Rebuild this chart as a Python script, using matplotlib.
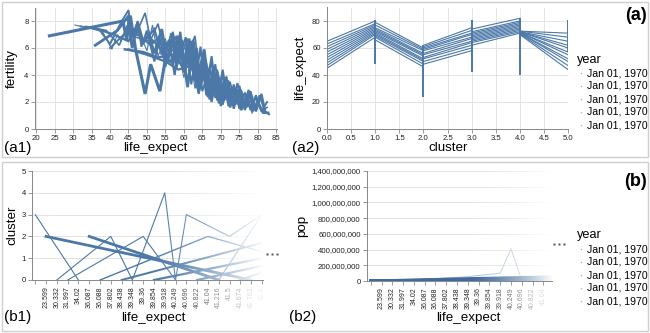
import numpy as np
import matplotlib
matplotlib.use("Agg")
import matplotlib.pyplot as plt
from matplotlib.patches import Rectangle
from matplotlib.lines import Line2D
from matplotlib.ticker import FuncFormatter

plt.rcParams['font.family'] = ['Liberation Sans', 'DejaVu Sans']

BLUE = '#4c78a8'
GRID = '#e3e3e3'
AXC = '#888888'

# ---------------- (a1) fertility vs life_expect, one line per year ----------------
a1_le = [
    [23.6, 43.5, 44.5, 45.5, 47, 49.5, 51, 53.5, 55, 57, 58.5, 60, 62, 63.5, 65, 66.5, 68, 69.5, 70.5, 72],
    [36, 42, 44.8, 46, 47.5, 49, 50.5, 52, 54, 55.5, 57, 58, 59.5, 61, 62.5, 64, 65.5, 67, 69, 70.5, 72, 73.5],
    [30.5, 34, 38, 40.5, 42, 43, 44.5, 45.5, 46.5, 48, 50, 51.5, 53, 55, 56.5, 58, 60, 61.5, 63, 65, 66.5, 68, 70, 72, 74, 76],
    [32, 37, 40, 43, 45, 46, 47.5, 48.5, 50, 52, 53.5, 55, 57, 58.5, 60.5, 62, 63.5, 65, 67, 68.5, 70.5, 72, 73.5, 75, 77],
    [33.5, 39, 42.5, 45, 47, 49.5, 51, 53, 55, 56.5, 58, 59.5, 61, 63, 64.5, 66, 67.5, 69, 71, 72.5, 74, 75.5, 77, 78.5],
    [35.5, 41, 45, 47, 49, 52, 54, 56, 57.5, 59, 61, 62.5, 64, 65.5, 67, 68.5, 70, 71.5, 73, 74.5, 76, 77.5, 79, 80.5],
    [40, 44.5, 48, 51, 54, 56, 58, 60, 61.5, 63, 64.5, 66, 67.5, 69, 70.5, 72, 73.5, 75, 76.5, 78, 79.5, 81, 82.5],
    [44, 49, 53, 57, 59.5, 61.5, 63.5, 65, 66.5, 68, 69.5, 71, 72.5, 74, 75.5, 77, 78.5, 80, 81.5, 82.8],
    [45, 50, 55, 58.5, 62, 64, 66, 67.5, 69, 70.5, 72, 73.5, 75, 76.5, 78, 79.5, 81, 82, 83],
    [47, 52, 56, 59, 61, 63, 64.5, 66, 67.5, 69, 70.5, 72, 73.5, 75, 76.5, 78, 79.5, 81, 82.5],
    [50, 54, 57, 60, 62.5, 64, 65.5, 67, 68.5, 70, 71.5, 73, 74.5, 76, 77.5, 79, 80.5, 82],
]
a1_fert = [
    [6.9, 8.0, 6.6, 8.4, 5.8, 2.6, 4.8, 2.8, 5.2, 4.9, 6.9, 4.5, 6.5, 3.5, 4.6, 2.6, 3.3, 2.4, 2.9, 2.3],
    [6.2, 7.3, 8.3, 6.0, 7.9, 6.4, 7.0, 5.6, 7.4, 5.0, 6.8, 4.7, 6.1, 3.1, 6.6, 3.9, 5.9, 2.2, 3.6, 2.1, 2.8, 2.0],
    [7.7, 7.5, 7.2, 5.9, 7.0, 6.5, 7.6, 8.1, 6.9, 7.1, 5.8, 7.7, 5.4, 6.7, 4.9, 6.3, 3.8, 5.6, 3.0, 4.4, 2.4, 3.3, 2.6, 2.2, 2.0, 1.9],
    [7.6, 7.4, 6.3, 7.9, 8.8, 6.8, 8.0, 6.1, 7.3, 5.0, 6.7, 4.6, 7.2, 5.2, 6.8, 3.3, 6.0, 2.8, 4.6, 2.3, 3.4, 2.1, 2.9, 1.9, 1.8],
    [7.6, 7.3, 6.2, 7.8, 7.0, 8.6, 6.6, 7.8, 5.3, 7.1, 4.4, 6.6, 5.5, 6.9, 3.3, 5.1, 2.6, 4.4, 2.1, 3.5, 1.8, 2.9, 1.6, 2.4],
    [7.5, 7.0, 6.5, 7.5, 6.4, 7.4, 5.5, 6.6, 4.0, 7.2, 3.2, 6.4, 2.6, 5.3, 2.8, 4.0, 1.7, 3.4, 1.9, 2.9, 1.6, 2.6, 1.4, 2.2],
    [6.0, 7.2, 6.9, 6.2, 7.0, 5.6, 6.9, 5.1, 6.7, 3.7, 6.1, 2.9, 5.4, 2.2, 4.4, 1.9, 3.3, 1.6, 2.7, 1.5, 2.5, 1.3, 2.0],
    [5.9, 5.7, 5.3, 5.5, 4.7, 5.9, 3.1, 5.3, 2.4, 4.6, 1.9, 3.8, 1.6, 3.0, 1.4, 2.4, 1.3, 2.0, 1.2, 1.2],
    [5.9, 5.5, 5.0, 4.4, 4.7, 2.7, 4.6, 2.0, 4.2, 1.8, 3.6, 1.5, 3.2, 1.4, 2.8, 1.3, 2.6, 1.3, 1.1],
    [6.8, 6.4, 6.1, 5.2, 6.7, 3.9, 5.8, 2.5, 5.0, 2.1, 4.0, 1.7, 3.1, 1.5, 2.6, 1.4, 2.3, 1.3, 1.6],
    [7.0, 5.9, 6.5, 4.2, 6.0, 2.9, 5.3, 2.6, 4.8, 1.9, 3.9, 1.8, 3.4, 1.6, 2.9, 1.5, 2.5, 1.2],
]
a1_width = [2.2, 2.0, 0.8, 1.4, 1.2, 1.6, 1.4, 1.8, 1.6, 1.2, 1.4]

# ---------------- (a2) life_expect vs cluster ----------------
a2_c0 = [45, 47, 49, 51, 53, 55, 57, 59, 61, 63, 65]
a2_c1_in = [68, 70, 71, 72, 73, 74, 75, 76, 77, 78, 80]
a2_c1_out = [66, 68, 69, 70, 71, 72, 73, 74, 75, 77, 79]
a2_c2_in = [46, 48, 50, 51, 52, 54, 55, 56, 58, 59, 60]
a2_c2_out = [48, 50, 52, 53, 55, 56, 58, 59, 60, 61, 62]
a2_c3_in = [58, 60, 62, 64, 65, 67, 68, 70, 71, 73, 75]
a2_c3_out = [62, 64, 65, 66, 67, 68, 69, 70, 71, 72, 74]
a2_c4_in = [71, 72, 73, 74, 75, 76, 77, 78, 79, 80, 82]
a2_c4_out = [70, 70.5, 71, 71, 71.5, 71.5, 72, 72, 72, 72.5, 72.5]
a2_c5 = [44, 47, 50, 52, 55, 57, 60, 62, 65, 68, 71]
a2_spike_cluster = [0, 1, 2, 3, 4, 5]
a2_spike_lo = [30, 48, 24, 42, 40, 57]
a2_spike_hi = [66, 81, 62, 81, 82, 81]

# ---------------- (b1) cluster vs life_expect (categorical) ----------------
b1_labels = ['', '23.599', '30.332', '31.997', '34.02', '36.087', '36.088', '37.802',
             '38.438', '39.348', '39.36', '39.854', '39.918', '40.249', '40.696',
             '40.822', '41.04', '41.216', '41.5', '41.674', '41.763', '41.8']
b1_lines_idx = [
    [0, 4],
    [1, 20],
    [5, 17],
    [2, 7, 9, 12, 13, 14, 18, 21],
    [3, 10, 13],
    [6, 16, 21],
    [8, 21],
    [11, 21],
    [15, 21],
    [17, 21],
    [19, 21],
]
b1_lines_val = [
    [3, 0],
    [2, 0],
    [2, 0],
    [0, 2, 0, 4, 0, 3, 2, 3],
    [0, 2, 0],
    [0, 2, 1.3],
    [0, 1.7],
    [0, 1.0],
    [0, 0.65],
    [0, 3],
    [0, 0.35],
]
b1_lines_w = [0.8, 2.0, 2.0, 0.8, 0.8, 1.0, 1.4, 1.6, 1.6, 0.8, 1.6]

# ---------------- (b2) pop vs life_expect (categorical) ----------------
b2_labels = ['', '23.599', '30.332', '31.997', '34.02', '36.087', '36.088', '37.802',
             '38.438', '39.348', '39.36', '39.854', '39.918', '40.249', '40.696',
             '40.822', '41.04']
b2_lines_idx = [
    [0, 1, 3, 6, 9, 12, 13, 14, 16, 18],
    [0, 4, 8, 12, 16, 18],
    [0, 4, 8, 12, 16, 18],
    [0, 4, 8, 12, 16, 18],
    [0, 4, 8, 12, 16, 18],
    [0, 4, 8, 12, 16, 18],
]
b2_lines_val = [
    [0, 2e6, 1.2e7, 3e7, 5.5e7, 1.0e8, 4.1e8, 1.0e7, 2e7, 3e7],
    [0, 1.2e7, 2.6e7, 3.8e7, 5e7, 5.6e7],
    [0, 8e6, 1.8e7, 2.8e7, 4e7, 4.5e7],
    [0, 5e6, 1.2e7, 2e7, 3e7, 3.4e7],
    [0, 3e6, 7e6, 1.3e7, 2e7, 2.4e7],
    [0, 1e6, 3e6, 6e6, 1e7, 1.2e7],
]
b2_lines_w = [0.7, 2.2, 2.2, 2.2, 2.2, 2.2]
b2_lines_c = ['#a9bfdc', '#3f6b9f', '#3f6b9f', '#3f6b9f', '#3f6b9f', '#3f6b9f']

legend_entries = ['Jan 01, 1970'] * 5

W, H = 650, 333
fig = plt.figure(figsize=(W / 100, H / 100), dpi=100)


def px_axes(x0, x1, ytop, ybot):
    return fig.add_axes([x0 / W, (H - ybot) / H, (x1 - x0) / W, (ybot - ytop) / H])


def style(ax, xgrid=True):
    for s in ['top', 'right']:
        ax.spines[s].set_visible(False)
    for s in ['left', 'bottom']:
        ax.spines[s].set_color(AXC)
        ax.spines[s].set_linewidth(0.7)
    ax.tick_params(length=3, width=0.6, color=AXC, labelsize=5.6, labelcolor='#222', pad=1.5)
    ax.grid(True, axis='y', color=GRID, lw=0.7)
    if xgrid:
        ax.grid(True, axis='x', color=GRID, lw=0.7)
    ax.set_axisbelow(True)


def fade(ax, start, power=1.4):
    t = np.linspace(0, 1, 256)
    img = np.ones((1, 256, 4))
    img[0, :, 3] = t ** power
    ax.imshow(img, extent=[start, 1.0, 0, 1], transform=ax.transAxes,
              aspect='auto', zorder=5, interpolation='bilinear')


# box frames
fig.add_artist(Rectangle((2 / W, (H - 157) / H), 646 / W, 155 / H, transform=fig.transFigure,
                         fill=False, ec='#cfcfcf', lw=1.0))
fig.add_artist(Rectangle((2 / W, (H - 331) / H), 646 / W, 169 / H, transform=fig.transFigure,
                         fill=False, ec='#cfcfcf', lw=1.0))

# (a1)
ax1 = px_axes(35, 277, 7.5, 129)
style(ax1)
for le, fe, w in zip(a1_le, a1_fert, a1_width):
    ax1.plot(le, fe, color=BLUE, lw=w, solid_joinstyle='miter')
ax1.set_xlim(19.7, 85.2)
ax1.set_ylim(0, 9)
ax1.set_xticks(range(20, 90, 5))
ax1.set_yticks([0, 2, 4, 6, 8])

# (a2)
ax2 = px_axes(327, 568, 7.5, 129)
style(ax2)
for i in range(len(a2_c0)):
    xs = [0, 1, 1, 2, 2, 3, 3, 4, 4, 5]
    ys = [a2_c0[i], a2_c1_in[i], a2_c1_out[i], a2_c2_in[i], a2_c2_out[i],
          a2_c3_in[i], a2_c3_out[i], a2_c4_in[i], a2_c4_out[i], a2_c5[i]]
    ax2.plot(xs, ys, color=BLUE, lw=0.8)
ax2.vlines(a2_spike_cluster, a2_spike_lo, a2_spike_hi, color=BLUE, lw=1.4)
ax2.set_xlim(0, 5)
ax2.set_ylim(0, 90)
ax2.set_xticks(np.arange(0, 5.01, 0.5))
ax2.xaxis.set_major_formatter(FuncFormatter(lambda v, p: f'{v:.1f}'))
ax2.set_yticks([0, 20, 40, 60, 80])

# (b1)
ax3 = px_axes(32, 263, 171, 280)
style(ax3, xgrid=False)
for idx, val, w in zip(b1_lines_idx, b1_lines_val, b1_lines_w):
    ax3.plot(idx, val, color=BLUE, lw=w)
ax3.set_xlim(-0.3, 21.1)
ax3.set_ylim(0, 5)
ax3.set_yticks(range(6))
ax3.set_xticks(range(len(b1_labels)))
ax3.set_xticklabels(b1_labels, rotation=90, fontsize=5.0)
fade(ax3, 0.5)
for i, lab in enumerate(ax3.get_xticklabels()):
    p = (i + 0.3) / 21.4
    a = 1.0 if p < 0.5 else max(0.08, 1 - ((p - 0.5) / 0.5) ** 1.4)
    lab.set_alpha(a)

# (b2)
ax4 = px_axes(367, 552, 171, 281)
style(ax4, xgrid=False)
for idx, val, w, c in zip(b2_lines_idx, b2_lines_val, b2_lines_w, b2_lines_c):
    ax4.plot(idx, val, color=c, lw=w)
ax4.set_xlim(-0.35, 16.8)
ax4.set_ylim(0, 1.4e9)
ax4.set_yticks(np.arange(0, 1.41e9, 2e8))
ax4.yaxis.set_major_formatter(FuncFormatter(lambda v, p: f'{v:,.0f}'))
ax4.set_xticks(range(len(b2_labels)))
ax4.set_xticklabels(b2_labels, rotation=90, fontsize=5.0)
fade(ax4, 0.55)
for i, lab in enumerate(ax4.get_xticklabels()):
    p = (i + 0.35) / 17.15
    a = 1.0 if p < 0.55 else max(0.1, 1 - ((p - 0.55) / 0.45) ** 1.4)
    lab.set_alpha(a)


def ftext(x, y, s, **kw):
    fig.text(x / W, (H - y) / H, s, **kw)


TS = 9.6
ftext(155, 148, 'life_expect', ha='center', va='center', fontsize=TS)
ftext(12, 68, 'fertility', ha='center', va='center', fontsize=TS, rotation=90)
ftext(448, 148, 'cluster', ha='center', va='center', fontsize=TS)
ftext(300, 68, 'life_expect', ha='center', va='center', fontsize=TS, rotation=90)
ftext(153, 318, 'life_expect', ha='center', va='center', fontsize=TS)
ftext(12, 225, 'cluster', ha='center', va='center', fontsize=TS, rotation=90)
ftext(468, 318, 'life_expect', ha='center', va='center', fontsize=TS)
ftext(302, 226, 'pop', ha='center', va='center', fontsize=TS, rotation=90)

PS = 11
ftext(4, 148, '(a1)', ha='left', va='center', fontsize=PS)
ftext(292, 148, '(a2)', ha='left', va='center', fontsize=PS)
ftext(4, 317, '(b1)', ha='left', va='center', fontsize=PS)
ftext(289, 317, '(b2)', ha='left', va='center', fontsize=PS)
ftext(647, 16, '(a)', ha='right', va='center', fontsize=13, fontweight='bold')
ftext(647, 181, '(b)', ha='right', va='center', fontsize=13, fontweight='bold')

# legends
for ytitle, ys in [(60, [73, 86, 99, 112, 125]), (235, [249, 262, 275, 288, 301])]:
    ftext(577, ytitle, 'year', ha='left', va='center', fontsize=9.2)
    for y, lab in zip(ys, legend_entries):
        ftext(587, y, lab, ha='left', va='center', fontsize=7.6)
    fig.add_artist(Line2D([581 / W] * len(ys), [(H - y) / H for y in ys], transform=fig.transFigure,
                          ls='none', marker='o', ms=1.1, color='#9fb6d6', mec='none'))

# ellipsis markers
for xs, y in [([267, 272, 277], 254), ([554, 559, 564], 244)]:
    fig.add_artist(Line2D([x / W for x in xs], [(H - y) / H] * 3, transform=fig.transFigure,
                          ls='none', marker='s', ms=2.0, color='#555555', mec='none'))

fig.savefig('out.png', dpi=100)
